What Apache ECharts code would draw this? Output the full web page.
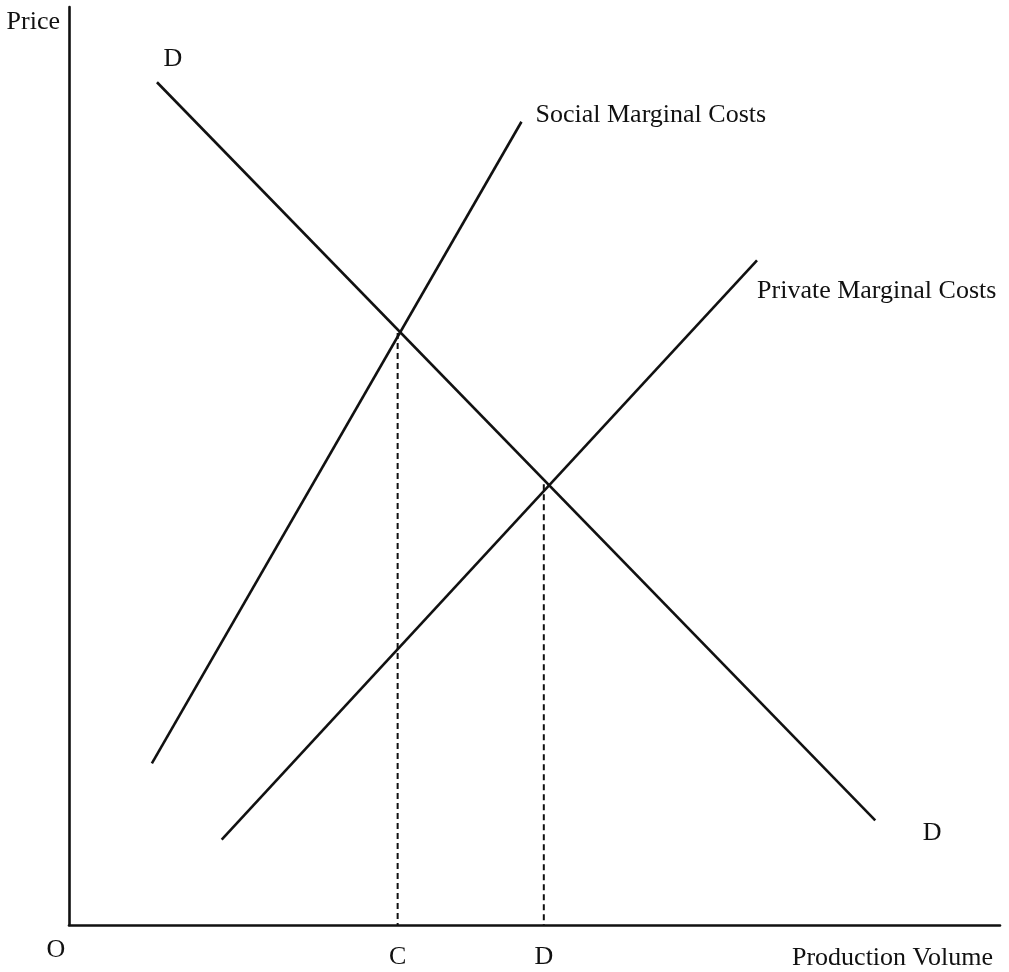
<!DOCTYPE html>
<html>
<head>
<meta charset="utf-8">
<script src="https://cdn.jsdelivr.net/npm/echarts@6/dist/echarts.min.js"></script>
<style>html,body{margin:0;padding:0;background:#fff}#c{width:1009px;height:972px}</style>
</head>
<body>
<div id="c"></div>
<script>
// Data (abstract units, 0..100 on both axes)
const demand = [[9.45, 91.8], [86.6, 11.4]];
const socialMC = [[8.9, 17.6], [48.6, 87.5]];
const privateMC = [[16.4, 9.3], [73.9, 72.4]];
const equilibria = [[35.3, 64.5], [51.0, 48.0]];
const xTickValues = [0, 35.3, 51.0];
const xTickLabels = ['O', 'C', 'D'];
const axisNames = { x: 'Production Volume', y: 'Price' };
const curveNames = { demand: 'D', social: 'Social Marginal Costs', private: 'Private Marginal Costs' };

const FONT = 'Liberation Serif';
const INK = '#111';
const txt = { fontFamily: FONT, fontSize: 26, color: INK };

function withLabels(points, labels) {
  return points.map((p, i) => labels[i] ? { value: p, label: Object.assign({ show: true }, txt, labels[i]) } : { value: p });
}

const solidLine = { color: INK, width: 2.6 };
const dashLine = { color: INK, width: 2, type: [6, 4] };

const series = [
  {
    type: 'line', symbol: 'circle', symbolSize: 0.1, showSymbol: true, lineStyle: solidLine, itemStyle: { color: INK },
    data: withLabels(demand, [
      { formatter: curveNames.demand, position: 'inside', offset: [16, -23] },
      { formatter: curveNames.demand, position: 'inside', offset: [57, 13] }
    ])
  },
  {
    type: 'line', symbol: 'circle', symbolSize: 0.1, showSymbol: true, lineStyle: solidLine, itemStyle: { color: INK },
    data: withLabels(socialMC, [null, { formatter: curveNames.social, position: 'right', distance: 14, offset: [0, -7] }])
  },
  {
    type: 'line', symbol: 'circle', symbolSize: 0.1, showSymbol: true, lineStyle: solidLine, itemStyle: { color: INK },
    data: withLabels(privateMC, [null, { formatter: curveNames.private, position: 'right', distance: 0, offset: [0, 31] }])
  }
];
equilibria.forEach(e => {
  series.push({ type: 'line', symbol: 'none', lineStyle: dashLine, data: [[e[0], e[1]], [e[0], 0]] });
});

const chart = echarts.init(document.getElementById('c'), null, { renderer: 'canvas' });
chart.setOption({
  animation: false,
  backgroundColor: '#fff',
  grid: { left: 69, right: 9, top: 7, bottom: 47, containLabel: false },
  xAxis: {
    type: 'value', min: 0, max: 100,
    name: axisNames.x, nameLocation: 'end', nameGap: -7,
    nameTextStyle: Object.assign({}, txt, { align: 'right', verticalAlign: 'top', padding: [20, 0, 0, 0] }),
    axisLine: { show: true, onZero: false, lineStyle: { color: INK, width: 2.6 } },
    axisTick: { show: false },
    splitLine: { show: false },
    axisLabel: {
      show: true, customValues: xTickValues, margin: 9,
      formatter: v => {
        const i = xTickValues.indexOf(v);
        const t = i >= 0 ? xTickLabels[i] : '';
        return i === 0 ? '{o|' + t + '}' : '{cd|' + t + '}';
      },
      rich: {
        o: Object.assign({}, txt, { padding: [3, 26, 0, 0] }),
        cd: Object.assign({}, txt, { padding: [10, 0, 0, 0] })
      }
    }
  },
  yAxis: {
    type: 'value', min: 0, max: 100,
    name: axisNames.y, nameLocation: 'end', nameGap: -2,
    nameTextStyle: Object.assign({}, txt, { align: 'right', verticalAlign: 'top', padding: [0, 9, 0, 0] }),
    axisLine: { show: true, onZero: false, lineStyle: { color: INK, width: 2.6 } },
    axisTick: { show: false },
    splitLine: { show: false },
    axisLabel: { show: false }
  },
  series: series
});
</script>
</body>
</html>
